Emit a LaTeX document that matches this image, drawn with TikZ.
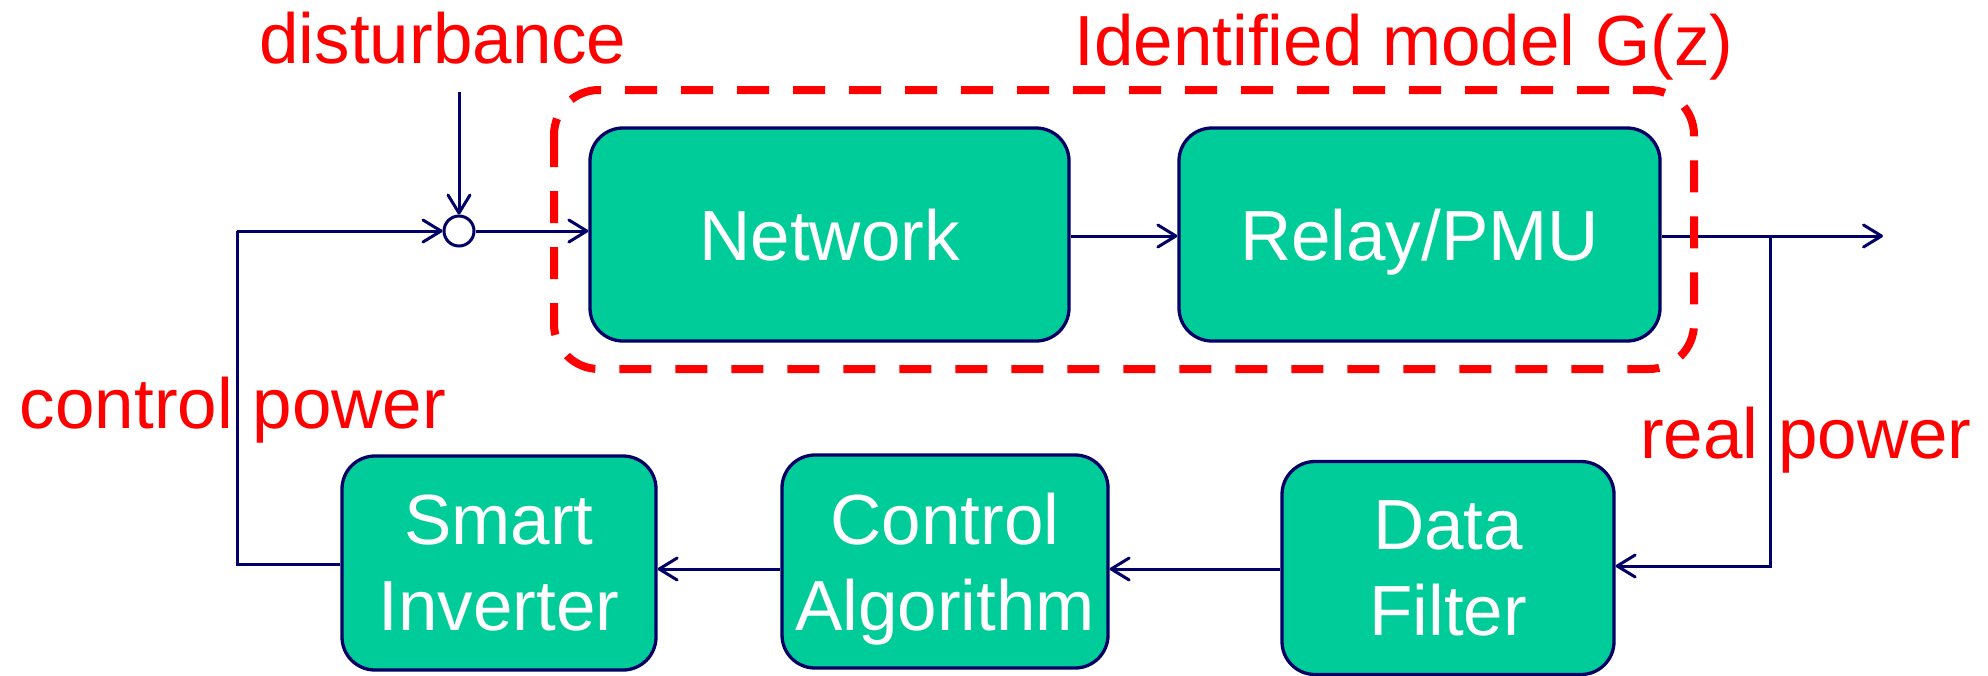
\documentclass[tikz,border=0pt]{standalone}
\usepackage{fontspec}
\setmainfont{Liberation Sans}
\usetikzlibrary{arrows.meta,calc}
\definecolor{boxfill}{HTML}{00CC99}
\definecolor{navy}{HTML}{000066}
\definecolor{lblred}{HTML}{FF0000}
\newcommand{\nodepth}[1]{\raisebox{0pt}[\height][0pt]{#1}}
\tikzset{
  blockbox/.style={draw=navy, line width=3.3pt, fill=boxfill, rounded corners=33pt,
    text=white, align=center, inner sep=0pt,
    font=\fontsize{71}{86}\selectfont},
  conn/.style={draw=navy, line width=3pt},
  arr/.style={conn, -{Straight Barb[length=18pt,width=22pt,line width=3pt,round]}},
  lbl/.style={text=lblred, font=\fontsize{71}{83}\selectfont, inner sep=0pt, anchor=base},
  modelbox/.style={draw=lblred, line width=8pt, dash pattern=on 32pt off 24pt, rounded corners=45pt}
}
\begin{document}
\begin{tikzpicture}[x=1pt,y=-1pt]
\useasboundingbox (0,0) rectangle (1988,675);
% blocks
\node[blockbox, minimum width=479pt, minimum height=213pt] (net) at (829.5,234.5) {\nodepth{Network}};
\node[blockbox, minimum width=481pt, minimum height=213pt] (relay) at (1419.5,234.5) {\nodepth{Relay/PMU}};
\node[blockbox, minimum width=314pt, minimum height=214pt] (si) at (499,563) {Smart\\\nodepth{Inverter}};
\node[blockbox, minimum width=326pt, minimum height=213pt] (ca) at (945,561.5) {Control\\\nodepth{Algorithm}};
\node[blockbox, minimum width=332pt, minimum height=213pt] (df) at (1448,568) {Data\\\nodepth{Filter}};
% summing junction
\node[draw=navy, line width=3pt, circle, minimum size=30pt, inner sep=0pt, fill=white] (sum) at (459,231) {};
% coordinates
\coordinate (dtop) at (459,92);
\coordinate (outend) at (1883,236);
\coordinate (branch) at (1770,236);
\coordinate (brdown) at (1770,566);
\coordinate (lbot) at (237,564);
\coordinate (ltop) at (237,231);
% connectors
\draw[arr] (dtop) -- (sum.north);
\draw[arr] (ltop) -- (sum.west);
\draw[arr] (sum.east) -- (sum.east -| net.west);
\draw[arr] (net.east |- 0,236) -- (relay.west |- 0,236);
\draw[arr] (relay.east |- outend) -- (outend);
\draw[arr] (branch) -- (brdown) -- (brdown -| df.east);
\draw[arr] (df.west |- 0,569) -- (ca.east |- 0,569);
\draw[arr] (ca.west |- 0,569) -- (si.east |- 0,569);
\draw[conn] (si.west |- lbot) -- (lbot) -- (ltop);
% identified model dashed frame
\draw[modelbox] (554,90) rectangle (1694,369);
% labels
\node[lbl] (ldist) at (443,63) {disturbance};
\node[lbl] (lmodel) at (1404,65) {Identified model G(z)};
\node[lbl] (lctrl) at (233,428) {control power};
\node[lbl] (lreal) at (1806,458) {real power};
\end{tikzpicture}
\end{document}
